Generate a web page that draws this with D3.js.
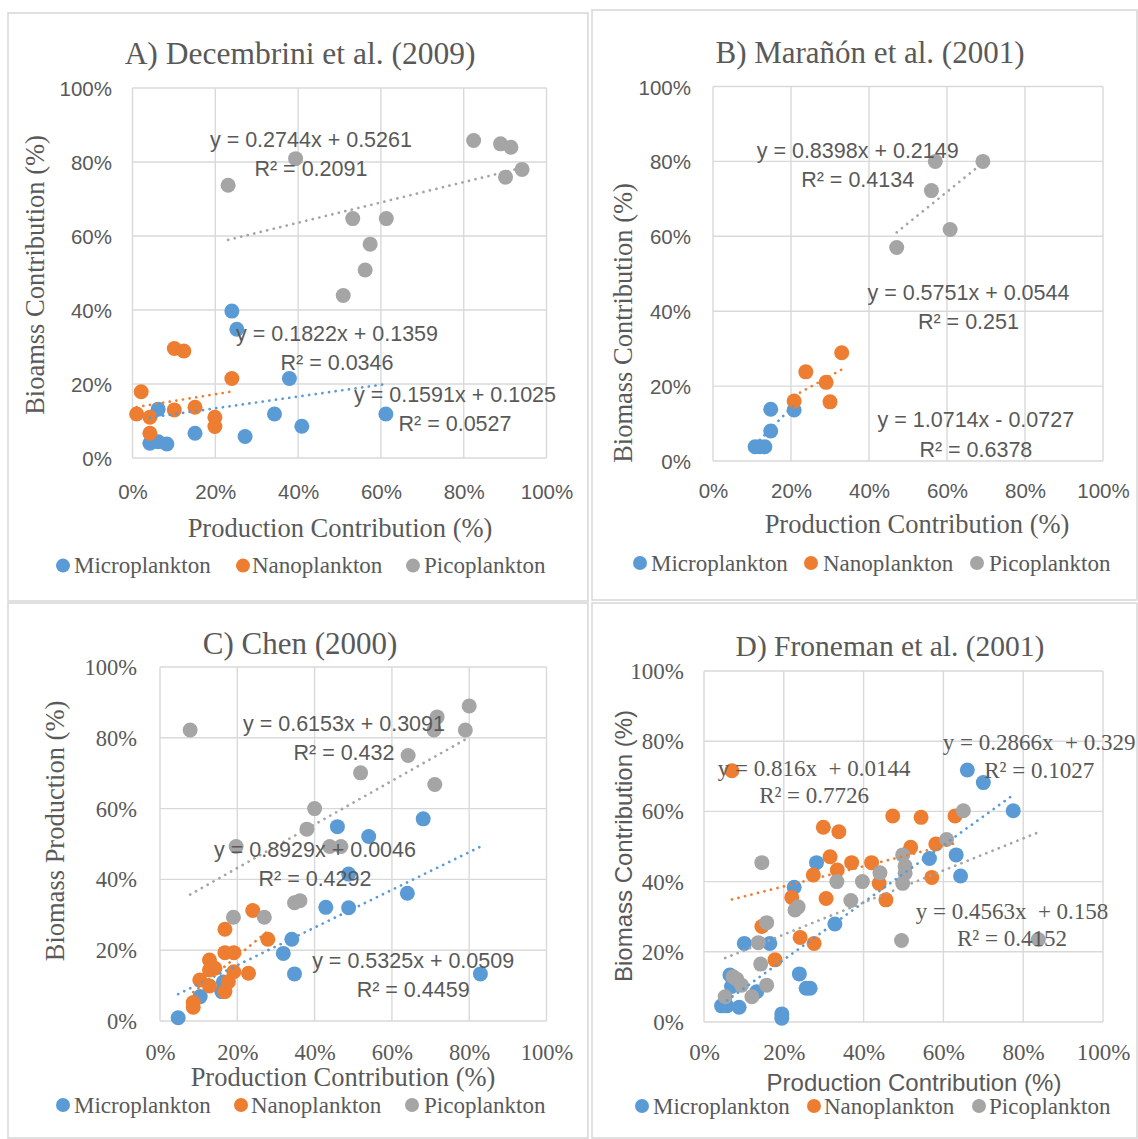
<!DOCTYPE html>
<html><head><meta charset="utf-8">
<script src="https://cdn.jsdelivr.net/npm/d3@7"></script>
<style>body{margin:0;background:#fff}svg{display:block}text{white-space:pre}</style>
</head><body>
<svg id="c" width="1138" height="1139"></svg>
<script>
// ---------------- DATA ----------------
const seriesNames = ["Microplankton","Nanoplankton","Picoplankton"];
const seriesColors = ["#5B9BD5","#ED7D31","#A5A5A5"];
const xTickValues = [0,20,40,60,80,100];
const yTickValues = [0,20,40,60,80,100];

// Panel A
const titleA = "A) Decembrini et al. (2009)";
const A_micro = [[4.2,4],[6.2,4.4],[8.3,3.8],[6.2,13.2],[15.1,6.7],[27.2,5.8],[34.3,11.9],[40.9,8.6],[37.9,21.5],[24,39.7],[25.2,34.8],[61.2,11.9]];
const A_nano  = [[1,11.9],[2.1,17.9],[4.2,11],[4.2,6.7],[10.1,13],[10.1,29.6],[12.4,28.9],[15.1,13.7],[19.9,11],[19.9,8.5],[24,21.5]];
const A_pico  = [[23.1,73.7],[39.4,80.9],[82.4,85.8],[88.9,84.9],[91.4,84],[90.1,75.9],[94.1,78],[53.2,64.7],[61.3,64.7],[57.4,57.8],[56.2,50.8],[50.9,43.9]];
const A_fits  = [[0.1591,0.1025],[0.1822,0.1359],[0.2744,0.5261]];
const A_labels = [["y = 0.1591x + 0.1025","R² = 0.0527"],["y = 0.1822x + 0.1359","R² = 0.0346"],["y = 0.2744x + 0.5261","R² = 0.2091"]];

// Panel B
const titleB = "B) Marañón et al. (2001)";
const B_micro = [[10.8,3.8],[12,3.8],[13.3,3.8],[14.8,8],[14.8,13.8],[20.8,13.6]];
const B_nano  = [[20.8,16],[23.8,23.8],[29,21],[30,15.8],[33,28.9]];
const B_pico  = [[47.1,57],[56,72.2],[57,80],[60.8,61.8],[69.2,80]];
const B_fits  = [[1.0714,-0.0727],[0.5751,0.0544],[0.8398,0.2149]];
const B_labels = [["y = 1.0714x - 0.0727","R² = 0.6378"],["y = 0.5751x + 0.0544","R² = 0.251"],["y = 0.8398x + 0.2149","R² = 0.4134"]];

// Panel C
const titleC = "C) Chen (2000)";
const C_micro = [[4.7,0.9],[10.4,6.9],[16,8.3],[16.4,11],[31.9,19.1],[34.1,23.1],[34.8,13.3],[42.9,32.1],[48.8,32],[48.8,41.5],[45.9,54.9],[54,52.1],[64,36.1],[68.1,57.1],[82.9,13.3]];
const C_nano  = [[8.6,5.2],[8.6,3.9],[10.3,11.6],[12.8,9.9],[12.8,14.4],[14.2,14.9],[12.8,17.2],[16.8,8.3],[17.7,11.1],[19.1,13.9],[22.9,13.5],[16.8,19.3],[19.1,19.3],[16.8,25.9],[24,31.2],[27.9,23.1]];
const C_pico  = [[7.8,82.2],[19,29.3],[19.7,49.3],[27,29.3],[34.8,33.4],[36.2,34],[38,54.2],[40,60],[43.9,49.3],[46.8,49.3],[51.9,70.1],[64.2,75],[71.1,66.8],[70.9,82.2],[71.7,85.9],[79,82.2],[80,89]];
const C_fits  = [[0.5325,0.0509],[0.8929,0.0046],[0.6153,0.3091]];
const C_labels = [["y = 0.5325x + 0.0509","R² = 0.4459"],["y = 0.8929x + 0.0046","R² = 0.4292"],["y = 0.6153x + 0.3091","R² = 0.432"]];

// Panel D
const titleD = "D) Froneman et al. (2001)";
const D_micro = [[4.4,4.6],[5.7,4.6],[8.8,4.2],[6.5,13.4],[6.9,10.1],[13.2,8.6],[10.1,22.4],[16.5,22.4],[19.5,2.3],[19.5,1.1],[22.6,38.4],[23.9,13.7],[25.6,9.6],[26.6,9.6],[28.2,45.4],[32.8,27.9],[56.5,46.6],[63.2,47.6],[64.3,41.6],[66,71.8],[70,68.2],[77.5,60.2]];
const D_nano  = [[7,71.6],[14.5,27.2],[17.8,17.7],[22,35.5],[24.1,24.1],[27.6,22.4],[27.4,41.9],[30.6,35.2],[29.9,55.5],[33.8,54.2],[31.6,47.1],[33.4,43.3],[37,45.4],[42,45.4],[43.9,39.5],[45.6,34.8],[47.3,58.7],[54.4,58.3],[51.8,49.8],[58.1,50.7],[57.1,41.2],[62.9,58.7]];
const D_pico  = [[5.3,7.2],[7.3,12.9],[8.2,12.2],[9.4,10.5],[12,7.2],[13.6,22.6],[14.2,16.5],[14.5,45.4],[15.7,28.3],[15.7,10.5],[22.8,31.9],[23.6,32.8],[33.3,40],[36.8,34.6],[39.7,40],[44.1,42.5],[49.5,23.2],[49.8,47.6],[50.4,44.4],[50.4,42.4],[49.8,39.5],[60.8,52],[65,60.2],[83.8,23.5]];
const D_fits  = [[0.816,0.0144],[0.2866,0.329],[0.4563,0.158]];
const D_labels = [["y = 0.816x  + 0.0144","R² = 0.7726"],["y = 0.2866x  + 0.329","R² = 0.1027"],["y = 0.4563x  + 0.158","R² = 0.4152"]];

// ---------------- LAYOUT ----------------
const SERIF = "'Liberation Serif','Times New Roman',serif";
const SANS = "'Liberation Sans',Arial,sans-serif";
const TXT = "#595959";
const GRID = "#d9d9d9";
const MARKER_R = 7.5;

const panels = [
  {title:titleA, series:[A_micro,A_nano,A_pico], fits:A_fits, labels:A_labels,
   xTitle:"Production Contribution (%)", yTitle:"Bioamss Contribution (%)",
   frame:[8,13,580,588], plot:[132.5,546.5,458,88], titlePos:[300,53], titleSize:31.5,
   xTitlePos:[340,528], yTitlePos:[35,275], axisTitleFont:SERIF, axisTitleSize:26.5,
   xTickY:491, yTickRight:112, tickFont:SANS, tickSize:20.5,
   eqFont:SANS, eqSize:21.5, eqGap:29, labelPos:[[77.9,17.0],[49.4,33.6],[43.1,86.0]],
   legendY:565.6, legendMarkers:[63,243,413], legendText:[74,252,424]},
  {title:titleB, series:[B_micro,B_nano,B_pico], fits:B_fits, labels:B_labels,
   xTitle:"Production Contribution (%)", yTitle:"Biomass Contribution (%)",
   frame:[592,10,545,590], plot:[713,1103,461,86.5], titlePos:[870,52], titleSize:31,
   xTitlePos:[917,524], yTitlePos:[623,323], axisTitleFont:SERIF, axisTitleSize:26.5,
   xTickY:490, yTickRight:691, tickFont:SANS, tickSize:20.5,
   eqFont:SANS, eqSize:21.5, eqGap:29.5, labelPos:[[67.4,10.9],[65.5,44.9],[37.1,82.9]],
   legendY:563, legendMarkers:[640,811,977], legendText:[651,823,989]},
  {title:titleC, series:[C_micro,C_nano,C_pico], fits:C_fits, labels:C_labels,
   xTitle:"Production Contribution (%)", yTitle:"Biomass Production (%)",
   frame:[8,603,580,535], plot:[160,546.5,1021,667], titlePos:[300,643], titleSize:31,
   xTitlePos:[343,1077], yTitlePos:[55,831], axisTitleFont:SERIF, axisTitleSize:26.5,
   xTickY:1052, yTickRight:137, tickFont:SERIF, tickSize:22.5,
   eqFont:SANS, eqSize:21.5, eqGap:29, labelPos:[[65.5,16.9],[40.1,48.3],[47.6,84.0]],
   legendY:1105, legendMarkers:[63,241,412], legendText:[74,251,424]},
  {title:titleD, series:[D_micro,D_nano,D_pico], fits:D_fits, labels:D_labels,
   xTitle:"Production Contribution (%)", yTitle:"Biomass Contribution (%)",
   frame:[592,603,545,535], plot:[704,1103,1022,671], titlePos:[890,646], titleSize:29.5,
   xTitlePos:[914,1082], yTitlePos:[623,846], axisTitleFont:SANS, axisTitleSize:24,
   xTickY:1052, yTickRight:684, tickFont:SERIF, tickSize:23,
   eqFont:SERIF, eqSize:23, eqGap:27.5, labelPos:[[27.6,72.3],[84.0,79.6],[77.2,31.6]],
   legendY:1106, legendMarkers:[642,814,979], legendText:[653,824,989]}
];

// ---------------- DRAW ----------------
const svg = d3.select("#c");
svg.append("rect").attr("width",1138).attr("height",1139).attr("fill","#fff");

panels.forEach(p => {
  const g = svg.append("g");
  g.append("rect").attr("x",p.frame[0]).attr("y",p.frame[1]).attr("width",p.frame[2]).attr("height",p.frame[3])
    .attr("fill","#fff").attr("stroke",GRID).attr("stroke-width",1.6);

  const x = d3.scaleLinear().domain([0,100]).range([p.plot[0],p.plot[1]]);
  const y = d3.scaleLinear().domain([0,100]).range([p.plot[2],p.plot[3]]);

  // gridlines
  g.append("g").selectAll("line").data(xTickValues).join("line")
    .attr("x1",d=>x(d)).attr("x2",d=>x(d)).attr("y1",y(0)).attr("y2",y(100))
    .attr("stroke",GRID).attr("stroke-width",1.4);
  g.append("g").selectAll("line").data(yTickValues).join("line")
    .attr("y1",d=>y(d)).attr("y2",d=>y(d)).attr("x1",x(0)).attr("x2",x(100))
    .attr("stroke",GRID).attr("stroke-width",1.4);

  // axes tick labels
  const gx = g.append("g").attr("transform",`translate(0,${p.xTickY})`)
    .call(d3.axisBottom(x).tickValues(xTickValues).tickSize(0).tickFormat(d=>d+"%"));
  gx.select(".domain").remove();
  gx.attr("font-family",p.tickFont).attr("font-size",p.tickSize);
  gx.selectAll("text").attr("y",0).attr("dy",null).attr("dominant-baseline","central").attr("fill",TXT);

  const gy = g.append("g").attr("transform",`translate(${p.yTickRight},0)`)
    .call(d3.axisLeft(y).tickValues(yTickValues).tickSize(0).tickPadding(0).tickFormat(d=>d+"%"));
  gy.select(".domain").remove();
  gy.attr("font-family",p.tickFont).attr("font-size",p.tickSize);
  gy.selectAll("text").attr("x",0).attr("dy",null).attr("dominant-baseline","central").attr("fill",TXT);

  // markers
  p.series.forEach((s,i) => {
    g.append("g").selectAll("circle").data(s).join("circle")
      .attr("cx",d=>x(d[0])).attr("cy",d=>y(d[1])).attr("r",MARKER_R)
      .attr("fill",seriesColors[i]);
  });

  // trendlines
  p.series.forEach((s,i) => {
    const [m,b] = p.fits[i];
    const ext = d3.extent(s, d=>d[0]);
    const pts = ext.map(v => [v, m*v + b*100]);
    g.append("path").datum(pts)
      .attr("d", d3.line().x(d=>x(d[0])).y(d=>y(d[1])))
      .attr("fill","none").attr("stroke",seriesColors[i]).attr("stroke-width",2.7)
      .attr("stroke-linecap","round").attr("stroke-dasharray","0.1 6.6");
  });

  // equation labels
  p.labels.forEach((lab,i) => {
    const [lx,ly] = p.labelPos[i];
    const t = g.append("text").attr("font-family",p.eqFont).attr("font-size",p.eqSize)
      .attr("fill",TXT).attr("text-anchor","middle");
    lab.forEach((line,k) => {
      t.append("tspan").attr("x",x(lx)).attr("y",y(ly)+k*p.eqGap)
        .attr("dominant-baseline","central").text(line);
    });
  });

  // title
  g.append("text").attr("x",p.titlePos[0]).attr("y",p.titlePos[1])
    .attr("text-anchor","middle").attr("dominant-baseline","central")
    .attr("font-family",SERIF).attr("font-size",p.titleSize).attr("fill",TXT).text(p.title);

  // axis titles
  g.append("text").attr("x",p.xTitlePos[0]).attr("y",p.xTitlePos[1])
    .attr("text-anchor","middle").attr("dominant-baseline","central")
    .attr("font-family",p.axisTitleFont).attr("font-size",p.axisTitleSize).attr("fill",TXT).text(p.xTitle);
  g.append("text").attr("transform",`translate(${p.yTitlePos[0]},${p.yTitlePos[1]}) rotate(-90)`)
    .attr("text-anchor","middle").attr("dominant-baseline","central")
    .attr("font-family",p.axisTitleFont).attr("font-size",p.axisTitleSize).attr("fill",TXT).text(p.yTitle);

  // legend
  seriesNames.forEach((name,i) => {
    g.append("circle").attr("cx",p.legendMarkers[i]).attr("cy",p.legendY).attr("r",7).attr("fill",seriesColors[i]);
    g.append("text").attr("x",p.legendText[i]).attr("y",p.legendY)
      .attr("dominant-baseline","central").attr("font-family",SERIF).attr("font-size",23)
      .attr("fill",TXT).text(name);
  });
});
</script>
</body></html>
